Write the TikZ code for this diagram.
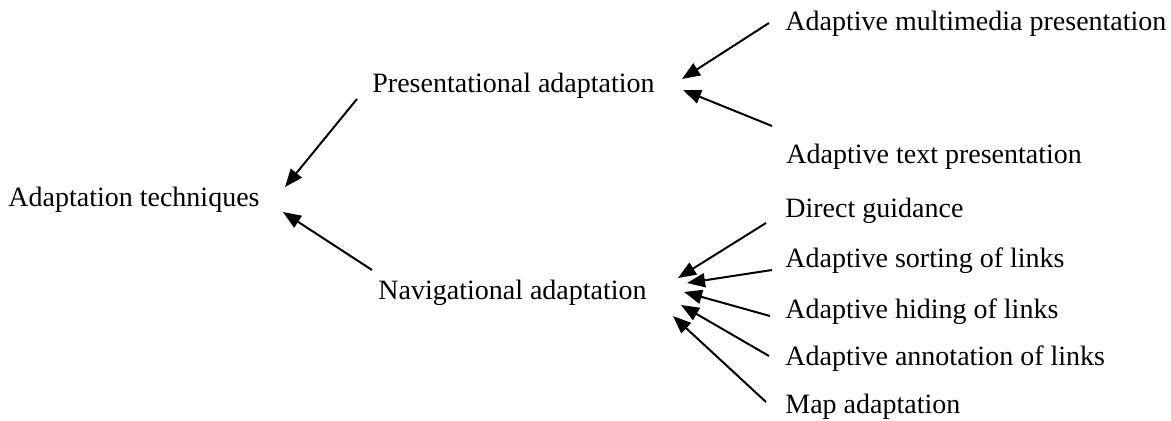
\documentclass[tikz,border=0pt]{standalone}
\usepackage{fontspec}
\setmainfont{Liberation Serif}
\usetikzlibrary{arrows.meta}
\begin{document}
\begin{tikzpicture}[x=0.5pt,y=-0.5pt,
  lbl/.style={anchor=base west, inner sep=0pt, font=\fontsize{14}{16}\selectfont},
  arr/.style={line width=1pt, -{Triangle[length=9pt,width=7pt]}}]
\useasboundingbox (0,0) rectangle (1171,421);
% labels
\node[lbl] (root) at (8,207) {Adaptation techniques};
\node[lbl] (pres) at (372,93) {Presentational adaptation};
\node[lbl] (nav) at (378,300) {Navigational adaptation};
\node[lbl] (mm) at (785,31) {Adaptive multimedia presentation};
\node[lbl] (txt) at (786,164) {Adaptive text presentation};
\node[lbl] (dg) at (785,218) {Direct guidance};
\node[lbl] (sort) at (785,268) {Adaptive sorting of links};
\node[lbl] (hide) at (785,319) {Adaptive hiding of links};
\node[lbl] (ann) at (785,366) {Adaptive annotation of links};
\node[lbl] (map) at (785,414) {Map adaptation};
% connector end points
\coordinate (pres-s) at (357,99);  \coordinate (root-a) at (285,187);
\coordinate (nav-s) at (372,270);  \coordinate (root-b) at (283,212);
\coordinate (mm-s) at (769,23);    \coordinate (pres-a) at (682,79);
\coordinate (txt-s) at (772,126);  \coordinate (pres-b) at (683,90);
\coordinate (dg-s) at (766,223);   \coordinate (nav-a) at (678,278);
\coordinate (sort-s) at (772,270); \coordinate (nav-b) at (687,283);
\coordinate (hide-s) at (770,316); \coordinate (nav-c) at (684,292);
\coordinate (ann-s) at (769,356);  \coordinate (nav-d) at (681,305);
\coordinate (map-s) at (766,402);  \coordinate (nav-e) at (673,316);
% connectors
\draw[arr] (pres-s) -- (root-a);
\draw[arr] (nav-s) -- (root-b);
\draw[arr] (mm-s) -- (pres-a);
\draw[arr] (txt-s) -- (pres-b);
\draw[arr] (dg-s) -- (nav-a);
\draw[arr] (sort-s) -- (nav-b);
\draw[arr] (hide-s) -- (nav-c);
\draw[arr] (ann-s) -- (nav-d);
\draw[arr] (map-s) -- (nav-e);
\end{tikzpicture}
\end{document}
